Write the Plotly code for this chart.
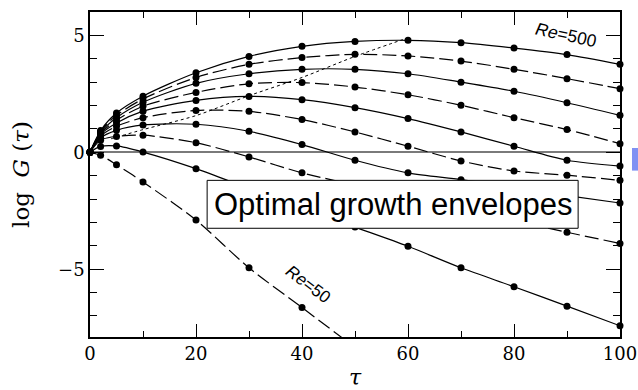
import numpy as np
import plotly.graph_objects as go

# Time horizon tau at which the optimal growth was computed
tau = [0, 2, 5, 10, 20, 30, 40, 50, 60, 70, 80, 90, 100]

# log10 of the optimal energy growth G(tau) for each Reynolds number
re_list = [50, 100, 150, 200, 250, 300, 350, 400, 450, 500]
logG_re50 = [0.00, -0.13, -0.53, -1.27, -2.90, -4.94, -6.64, -8.35]
logG_re100 = [0.00, 0.25, 0.27, 0.01, -0.70, -1.55, -2.38, -3.20, -4.02, -4.94, -5.75, -6.58, -7.42]
logG_re150 = [0.00, 0.52, 0.68, 0.73, 0.41, -0.20, -0.88, -1.40, -1.92, -2.42, -2.92, -3.42, -3.90]
logG_re200 = [0.00, 0.62, 0.94, 1.17, 1.20, 0.90, 0.33, -0.34, -0.88, -1.17, -1.50, -1.85, -2.17]
logG_re250 = [0.00, 0.70, 1.11, 1.48, 1.79, 1.75, 1.40, 0.87, 0.26, -0.37, -0.80, -0.98, -1.20]
logG_re300 = [0.00, 0.76, 1.25, 1.76, 2.22, 2.39, 2.25, 1.91, 1.44, 0.87, 0.26, -0.34, -0.59]
logG_re350 = [0.00, 0.81, 1.37, 1.97, 2.56, 2.93, 2.98, 2.79, 2.46, 2.01, 1.48, 0.97, 0.37]
logG_re400 = [0.00, 0.85, 1.48, 2.14, 2.95, 3.36, 3.55, 3.55, 3.36, 3.00, 2.61, 2.12, 1.58]
logG_re450 = [0.00, 0.89, 1.58, 2.28, 3.20, 3.76, 4.05, 4.19, 4.12, 3.90, 3.55, 3.15, 2.72]
logG_re500 = [0.00, 0.93, 1.68, 2.40, 3.40, 4.10, 4.53, 4.74, 4.79, 4.69, 4.46, 4.18, 3.76]

# Locus of the maximum growth over tau (optimal growth envelope)
envelope_tau = [4, 10, 20, 30, 40, 50, 59]
envelope_logG = [0.58, 0.97, 1.57, 2.42, 3.20, 4.10, 4.82]

curves = [logG_re50, logG_re100, logG_re150, logG_re200, logG_re250,
          logG_re300, logG_re350, logG_re400, logG_re450, logG_re500]

Y_RANGE = [-7.9, 6.0]
X_RANGE = [0, 100]

fig = go.Figure()

# envelope drawn as a dotted line
fig.add_trace(go.Scatter(
    x=envelope_tau, y=envelope_logG, mode="lines",
    line=dict(color="black", width=1, dash="dot", shape="spline", smoothing=0.8),
    showlegend=False, hoverinfo="skip"))

mx, my = [], []
for i, (re, vals) in enumerate(zip(re_list, curves)):
    t = tau[:len(vals)]
    dash = "14px,5px" if i % 2 == 0 else "solid"
    fig.add_trace(go.Scatter(
        x=t, y=vals, mode="lines", name=f"Re={re}",
        line=dict(color="black", width=1.2, dash=dash, shape="spline", smoothing=0.8),
        showlegend=False))
    t_arr, v_arr = np.array(t), np.array(vals)
    keep = (v_arr >= Y_RANGE[0]) & (v_arr <= Y_RANGE[1])
    mx.extend(t_arr[keep].tolist())
    my.extend(v_arr[keep].tolist())

# sampled points on every curve
fig.add_trace(go.Scatter(
    x=mx, y=my, mode="markers", cliponaxis=False,
    marker=dict(color="black", size=7), showlegend=False))

tick_font = dict(family="DejaVu Serif", size=18, color="black")

fig.update_xaxes(
    range=X_RANGE, showgrid=False, zeroline=False, automargin=False,
    showline=True, linecolor="black", linewidth=1.5, mirror="ticks",
    ticks="inside", ticklen=13, tickwidth=1.2, tickcolor="black",
    tick0=0, dtick=20, tickfont=tick_font,
    minor=dict(ticks="inside", ticklen=6, dtick=10, tickwidth=1.2, tickcolor="black", showgrid=False),
    title=dict(text="<i>τ</i>", font=dict(family="DejaVu Serif", size=22, color="black"), standoff=20))

fig.update_yaxes(
    range=Y_RANGE, showgrid=False, automargin=False,
    zeroline=True, zerolinecolor="#7a7a7a", zerolinewidth=1.6,
    showline=True, linecolor="black", linewidth=1.5, mirror="ticks",
    ticks="inside", ticklen=14, tickwidth=1.2, tickcolor="black",
    tick0=0, dtick=5, tickfont=tick_font,
    minor=dict(ticks="inside", ticklen=7, dtick=1, tickwidth=1.2, tickcolor="black", showgrid=False),
    title=dict(text="log  <i>G</i> (<i>τ</i>)", font=dict(family="DejaVu Serif", size=23, color="black"), standoff=22))

# boxed caption
fig.add_shape(type="rect", xref="x", yref="y", x0=22.1, x1=92.1, y0=-3.25, y1=-1.2,
              line=dict(color="black", width=1), fillcolor="white", layer="above")
fig.add_annotation(x=57.1, y=-2.25, xref="x", yref="y", text="Optimal growth envelopes",
                   showarrow=False, font=dict(family="Liberation Sans", size=31, color="black"))

# curve labels
fig.add_annotation(x=89.9, y=5.0, text="<i>Re</i>=500", showarrow=False, textangle=12,
                   font=dict(family="Liberation Sans", size=17.5, color="black"))
fig.add_annotation(x=41.2, y=-5.64, text="<i>Re</i>=50", showarrow=False, textangle=37,
                   font=dict(family="Liberation Sans", size=17, color="black"))

# small marker block on the right margin
fig.add_shape(type="rect", xref="paper", yref="paper", x0=1.0226, x1=1.04, y0=0.512, y1=0.5815,
              line=dict(width=0), fillcolor="#8191f3")

fig.update_layout(
    width=638, height=390,
    margin=dict(l=90, r=18, t=12, b=53),
    paper_bgcolor="white", plot_bgcolor="white",
    showlegend=False)

fig.write_html("out.html")
